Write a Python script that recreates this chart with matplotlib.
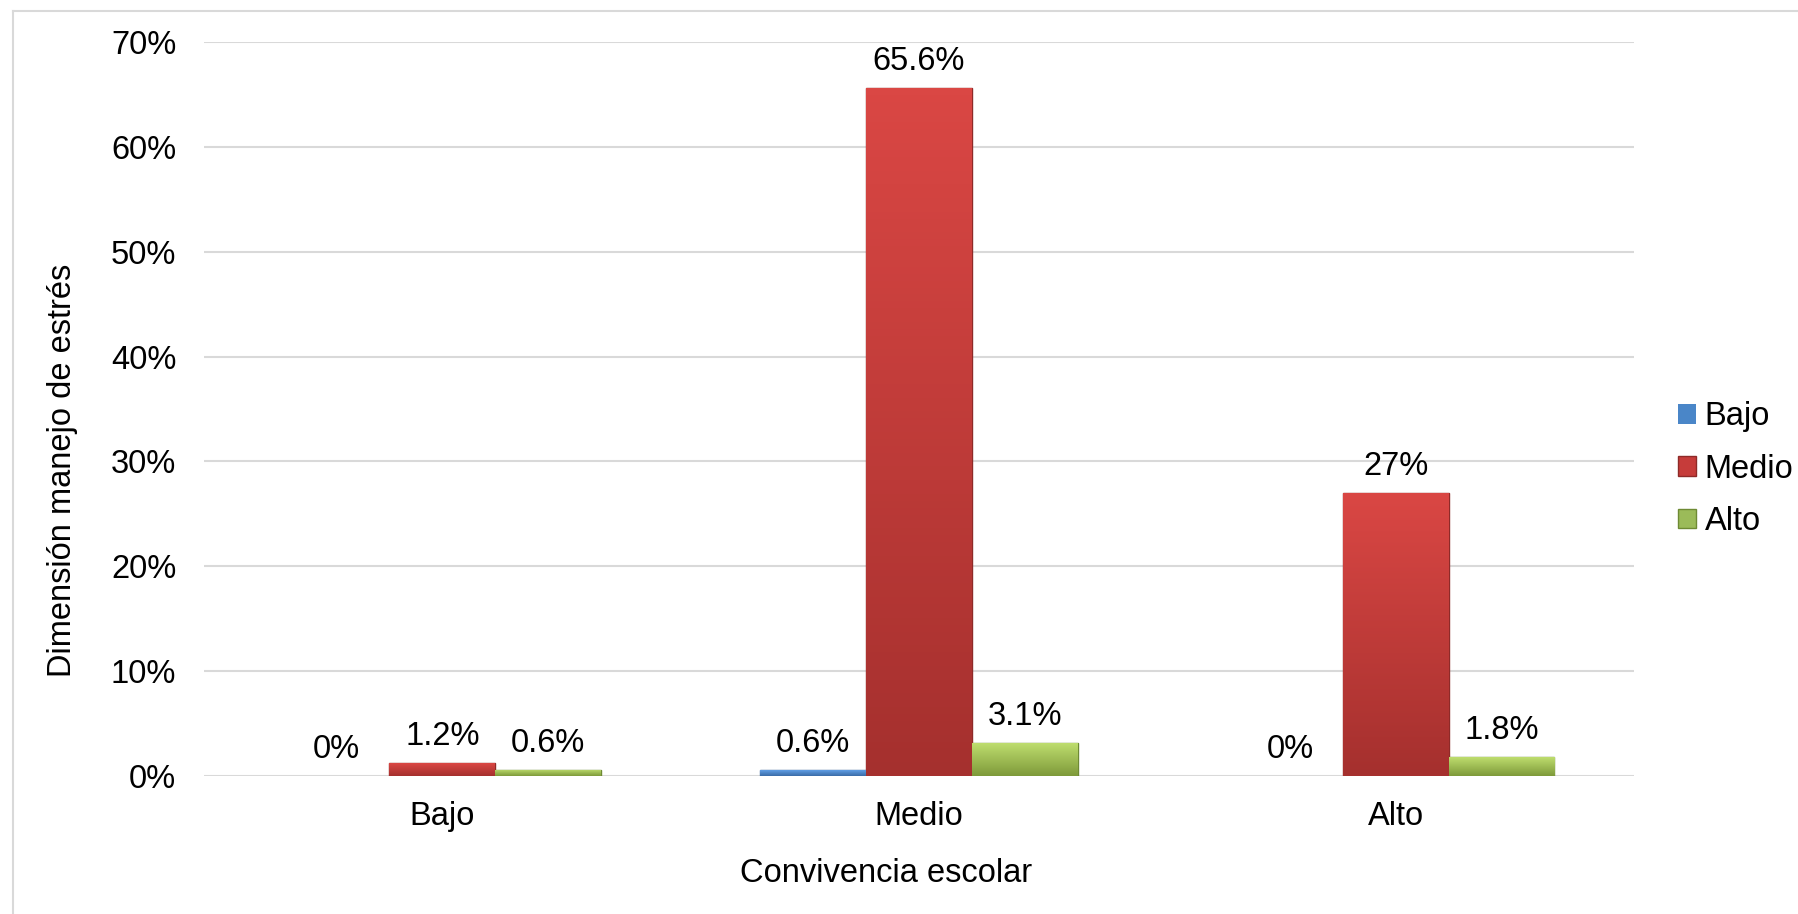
import numpy as np
import matplotlib.pyplot as plt
from matplotlib.lines import Line2D
from matplotlib.colors import LinearSegmentedColormap

# Datos del gráfico
categorias = ['Bajo', 'Medio', 'Alto']
series = ['Bajo', 'Medio', 'Alto']
bajo = [0.0, 0.6, 0.0]
medio = [1.2, 65.6, 27.0]
alto = [0.6, 3.1, 1.8]
etiquetas_bajo = ['0%', '0.6%', '0%']
etiquetas_medio = ['1.2%', '65.6%', '27%']
etiquetas_alto = ['0.6%', '3.1%', '1.8%']
yticks = [0, 10, 20, 30, 40, 50, 60, 70]

colores = ['#4A86C8', '#C63C3A', '#9BBB59']
arriba = ['#66A6EE', '#DA4744', '#BEDD6E']
abajo = ['#3A6CA8', '#A5302E', '#7E9A3A']
bordes = ['#3A6496', '#8E2A28', '#6E8A34']

plt.rcParams['font.family'] = ['Liberation Sans', 'DejaVu Sans']
fs = 23.5

fig = plt.figure(figsize=(17.98, 9.14), dpi=100)
ax = fig.add_axes([204 / 1798, 1 - 776 / 914, 1430 / 1798, 734 / 914])

x = np.arange(len(categorias))
w = 0.222
datos = [bajo, medio, alto]
etiquetas = [etiquetas_bajo, etiquetas_medio, etiquetas_alto]

for i, (vals, labs) in enumerate(zip(datos, etiquetas)):
    pos = x + (i - 1) * w
    cmap = LinearSegmentedColormap.from_list('g%d' % i, [abajo[i], arriba[i]])
    barras = ax.bar(pos, vals, w, color=colores[i], edgecolor=bordes[i],
                    linewidth=[1.0 if v > 0 else 0 for v in vals],
                    label=series[i], zorder=3)
    # degradado vertical dentro de cada barra
    for b, v in zip(barras, vals):
        if v <= 0:
            continue
        grad = np.linspace(0, 1, 100).reshape(-1, 1)
        im = ax.imshow(grad, cmap=cmap, origin='lower', aspect='auto',
                       extent=[b.get_x(), b.get_x() + b.get_width(), 0, v],
                       zorder=3.5)
        im.set_clip_path(b)
    for p, v, t in zip(pos, vals, labs):
        ax.annotate(t, (p, v), xytext=(0, 8), textcoords='offset points',
                    ha='center', va='bottom', fontsize=fs, color='black')

ax.set_xlim(-0.5, 2.5)
ax.set_ylim(0, 70)
ax.set_yticks(yticks)
ax.set_yticklabels([f'{t}%' for t in yticks], fontsize=fs)
ax.set_xticks(x)
ax.set_xticklabels(categorias, fontsize=fs)
ax.tick_params(axis='y', length=0, pad=20)
ax.tick_params(axis='x', length=0, pad=18)
ax.grid(axis='y', color='#D9D9D9', linewidth=1.5, zorder=0)
for s in ax.spines.values():
    s.set_visible(False)
ax.axhline(0, color='#D9D9D9', linewidth=2, zorder=2)

ax.set_xlabel('Convivencia escolar', fontsize=fs)
ax.xaxis.set_label_coords(0.477, -0.112)
ax.set_ylabel('Dimensión manejo de estrés', fontsize=fs)
ax.yaxis.set_label_coords(-0.088, 0.417)

ax.legend(loc='center left', bbox_to_anchor=(1.031, 0.418), frameon=False,
          fontsize=fs, handlelength=0.55, handleheight=0.55, handletextpad=0.25,
          labelspacing=0.65, borderaxespad=0, borderpad=0)

# borde del gráfico
fig.add_artist(Line2D([13 / 1798, 1], [1 - 11 / 914, 1 - 11 / 914],
                      color='#D9D9D9', linewidth=1.5))
fig.add_artist(Line2D([13 / 1798, 13 / 1798], [0, 1 - 11 / 914],
                      color='#D9D9D9', linewidth=1.5))

fig.savefig('out.png', dpi=100)
